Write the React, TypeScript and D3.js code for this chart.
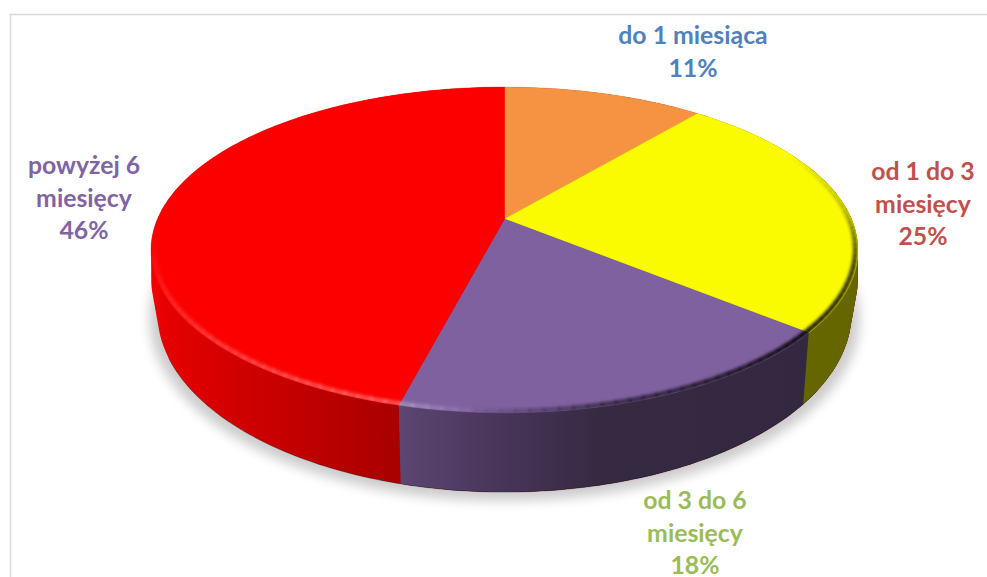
import React from "react";
import * as d3 from "d3";

const categories = ["do 1 miesiąca", "od 1 do 3 miesięcy", "od 3 do 6 miesięcy", "powyżej 6 miesięcy"];
const values = [11, 25, 18, 46];
const sliceColors = ["#f59342", "#fbfb00", "#7f61a0", "#fc0000"];
const labelColors = ["#4f81bd", "#c0504d", "#9bbb59", "#8064a2"];
const labelLines = [
  ["do 1 miesiąca", "11%"],
  ["od 1 do 3", "miesięcy", "25%"],
  ["od 3 do 6", "miesięcy", "18%"],
  ["powyżej 6", "miesięcy", "46%"],
];
const labelAnchors = [
  { x: 693, y: 44 },
  { x: 923, y: 180 },
  { x: 695, y: 509 },
  { x: 84, y: 174 },
];

const W = 987;
const H = 577;
const CX = 504.5;
const BULGE = 3.5;
const topPlane = { a: 347, b: 157, k: 0.19, y0: 219 };
const bottomPlane = { a: 340.7, b: 172.6, k: 0.19, y0: 279 };

type Plane = typeof topPlane;
type Pt = [number, number];
// Perspective projection of a unit-circle pie plane; the angle runs clockwise from 12 o'clock.
const project = (p: Plane, theta: number, r = 1): Pt => {
  const u = r * Math.sin(theta);
  const v = -r * Math.cos(theta);
  const d = 1 - p.k * v;
  return [CX + (p.a * u) / d, p.y0 + (p.b * v) / d];
};
// Halfway down the side wall, pushed out a little near the left and right silhouette.
const projectMid = (theta: number): Pt => {
  const t = project(topPlane, theta);
  const b = project(bottomPlane, theta);
  const u = Math.sin(theta);
  return [(t[0] + b[0]) / 2 + Math.sign(u) * BULGE * Math.pow(Math.abs(u), 8), (t[1] + b[1]) / 2];
};

const line = d3.line<Pt>().x((d) => d[0]).y((d) => d[1]);
const deg = (d: number) => (d * Math.PI) / 180;
const samples = (a: number, b: number, step = deg(1)) => {
  const n = Math.max(2, Math.ceil((b - a) / step));
  return d3.range(n + 1).map((i) => a + ((b - a) * i) / n);
};

const arcs = d3.pie<number>().sort(null)(values);
const colorScale = d3.scaleOrdinal<number, string>().domain(d3.range(values.length)).range(sliceColors);

const circle = samples(0, 2 * Math.PI);
// The wall's outline is the convex hull of the top rim, the mid line and the bottom rim.
const wallHull = d3.polygonHull([
  ...circle.map((t) => project(topPlane, t)),
  ...circle.map(projectMid),
  ...circle.map((t) => project(bottomPlane, t)),
]) as Pt[];

// Everything to the right of the wall seam at a slice's end angle.
const rightOfSeam = (theta: number): Pt[] => {
  const t = project(topPlane, theta);
  const b = project(bottomPlane, theta);
  const s = 3;
  const up: Pt = [t[0] - (b[0] - t[0]) * s, t[1] - (b[1] - t[1]) * s];
  const down: Pt = [b[0] + (b[0] - t[0]) * s, b[1] + (b[1] - t[1]) * s];
  return [up, [W + 50, up[1]], [W + 50, down[1]], down];
};

const sideGradients = [
  { id: "side1", x1: 805, x2: 858, stops: [["0", "#666600"], ["1", "#666600"]] },
  { id: "side2", x1: 400, x2: 805, stops: [["0", "#5c4672"], ["0.25", "#483559"], ["0.5", "#352a42"], ["1", "#332840"]] },
  { id: "side3", x1: 151, x2: 402, stops: [["0", "#f40000"], ["0.06", "#e60000"], ["0.3", "#d40000"], ["0.85", "#b00000"], ["1", "#a80000"]] },
];

// Bevel shade along the rim, as colour and strength for a rim angle in degrees.
const darkOpacity = d3.scaleLinear().domain([62, 85, 105, 130, 165, 184]).range([0, 0.22, 0.7, 0.85, 0.5, 0]).clamp(true);
const lightOpacity = d3.scaleLinear().domain([182, 195, 225, 262]).range([0, 0.3, 0.2, 0]).clamp(true);

export default function App() {
  const rimSteps = samples(deg(55), deg(270), deg(2));
  const d = line(wallHull) + "Z";
  return (
    <svg
      width={W}
      height={H}
      viewBox={`0 0 ${W} ${H}`}
      style={{ position: "fixed", left: 0, top: 0, display: "block" }}
      fontFamily="Lato, 'Open Sans', sans-serif"
    >
      <defs>
        <filter id="shadowBlur" x="-10%" y="-10%" width="120%" height="120%">
          <feGaussianBlur stdDeviation="6" />
        </filter>
        <filter id="rimBlur" x="-10%" y="-10%" width="120%" height="120%">
          <feGaussianBlur stdDeviation="1.8" />
        </filter>
        <clipPath id="topClip">
          <path d={line(circle.map((t) => project(topPlane, t))) + "Z"} />
        </clipPath>
        {[1, 2].map((i) => (
          <clipPath key={i} id={`wall${i}`}>
            <path d={line(rightOfSeam(arcs[i].endAngle)) + "Z"} />
          </clipPath>
        ))}
        {sideGradients.map((g) => (
          <linearGradient key={g.id} id={g.id} gradientUnits="userSpaceOnUse" x1={g.x1} x2={g.x2} y1={0} y2={0}>
            {g.stops.map(([o, c]) => (
              <stop key={o} offset={o} stopColor={c} />
            ))}
          </linearGradient>
        ))}
      </defs>

      <rect width={W} height={H} fill="#ffffff" />
      <path d={`M10.5 ${H}V14.5H${W}`} fill="none" stroke="#d9d9d9" strokeWidth={1.5} />

      <ellipse cx={CX} cy={319} rx={355} ry={182} fill="#000" opacity={0.2} filter="url(#shadowBlur)" />

      <path d={d} fill="url(#side3)" />
      <g clipPath="url(#wall2)">
        <path d={d} fill="url(#side2)" />
      </g>
      <g clipPath="url(#wall1)">
        <path d={d} fill="url(#side1)" />
      </g>
      <path
        d={line(samples(deg(125), deg(245)).map((t) => project(bottomPlane, t))) || ""}
        fill="none"
        stroke="#000"
        strokeOpacity={0.3}
        strokeWidth={1}
      />

      {arcs.map((a, i) => {
        const pts: Pt[] = [[CX, topPlane.y0], ...samples(a.startAngle, a.endAngle).map((t) => project(topPlane, t))];
        const c = colorScale(i);
        return <path key={`top${i}`} d={line(pts) + "Z"} fill={c} stroke={c} strokeWidth={0.4} />;
      })}

      <g clipPath="url(#topClip)">
        <g filter="url(#rimBlur)" fill="none" strokeWidth={5}>
          {rimSteps.slice(0, -1).map((t, i) => {
            const seg = line([project(topPlane, t, 0.993), project(topPlane, rimSteps[i + 1] + deg(0.3), 0.993)]) || "";
            const dg = (t * 180) / Math.PI;
            const dark = darkOpacity(dg);
            const light = lightOpacity(dg);
            return dark >= light ? (
              <path key={i} d={seg} stroke="#000" strokeOpacity={dark} />
            ) : (
              <path key={i} d={seg} stroke="#fff" strokeOpacity={light} />
            );
          })}
        </g>
      </g>

      {labelLines.map((lines, i) => (
        <text
          key={categories[i]}
          x={labelAnchors[i].x}
          y={labelAnchors[i].y}
          textAnchor="middle"
          fontWeight={700}
          fontSize={24.8}
          fill={labelColors[i]}
        >
          {lines.map((l, j) => (
            <tspan key={j} x={labelAnchors[i].x} y={labelAnchors[i].y + j * 32.7}>
              {l}
            </tspan>
          ))}
        </text>
      ))}
    </svg>
  );
}
